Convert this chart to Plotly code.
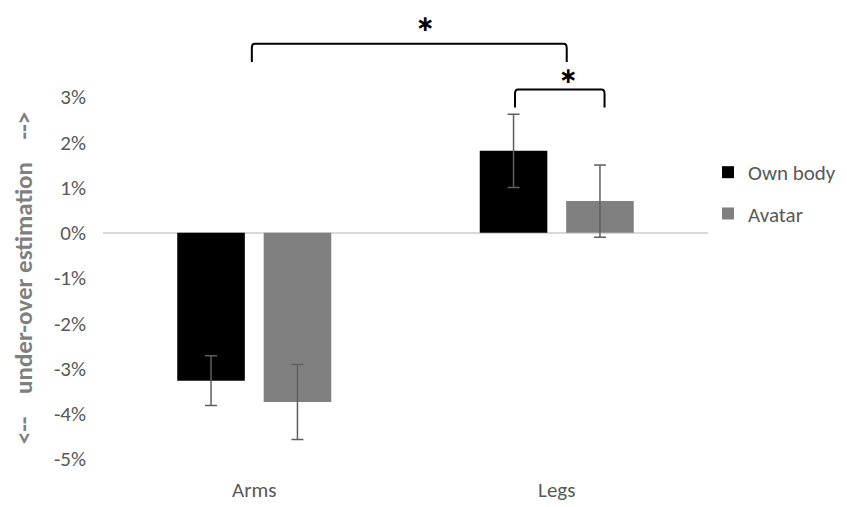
import plotly.graph_objects as go

categories = ["Arms", "Legs"]
own_body = [-3.27, 1.81]
own_body_err = [0.55, 0.81]
avatar = [-3.74, 0.70]
avatar_err = [0.83, 0.80]
y_ticks = [-5, -4, -3, -2, -1, 0, 1, 2, 3]
y_tick_text = [f"{v}%" for v in y_ticks]

FONT = "Calibri, Carlito, Lato, sans-serif"
GRAY_TXT = "#595959"
FS = 21

fig = go.Figure()
fig.add_trace(go.Bar(
    name="Own body", x=categories, y=own_body,
    marker=dict(color="#000000", line=dict(width=0)),
    error_y=dict(type="data", array=own_body_err, color="#5f5f5f", thickness=1.5, width=6),
    legendgroup="a",
))
fig.add_trace(go.Bar(
    name="Avatar", x=categories, y=avatar,
    marker=dict(color="#808080", line=dict(width=0)),
    error_y=dict(type="data", array=avatar_err, color="#5f5f5f", thickness=1.5, width=6),
    legendgroup="b",
))

# significance brackets (x in category units, y in paper units)
def bracket(x0, x1, ytop, ybot):
    r = 0.012
    return (f"M {x0},{ybot} L {x0},{ytop - r} Q {x0},{ytop} {x0 + 0.01},{ytop} "
            f"L {x1 - 0.01},{ytop} Q {x1},{ytop} {x1},{ytop - r} L {x1},{ybot}")

fig.add_shape(type="path", xref="x", yref="paper",
              path=bracket(-0.008, 1.033, 1.147, 1.097),
              line=dict(color="#000000", width=2))
fig.add_shape(type="path", xref="x", yref="paper",
              path=bracket(0.862, 1.158, 1.021, 0.971),
              line=dict(color="#000000", width=2))
fig.add_annotation(x=0.564, y=1.2046, xref="x", yref="paper", text="<b>\u2217</b>",
                   xanchor="center", yanchor="middle", height=18, borderpad=0,
                   showarrow=False,
                   font=dict(size=22, color="#000000", family="DejaVu Sans"))
fig.add_annotation(x=1.037, y=1.0606, xref="x", yref="paper", text="<b>\u2217</b>",
                   xanchor="center", yanchor="middle", height=18, borderpad=0,
                   showarrow=False,
                   font=dict(size=22, color="#000000", family="DejaVu Sans"))

NB = "&nbsp;"
title_txt = f"<b>&lt;--{NB*4}under-over estimation{NB*4}--&gt;</b>"

fig.update_layout(
    width=847, height=507,
    margin=dict(l=91, r=147, t=89, b=55),
    paper_bgcolor="white", plot_bgcolor="white",
    barmode="group", bargap=0.4286, bargroupgap=0.218,
    font=dict(family=FONT, color=GRAY_TXT, size=FS),
    legend=dict(x=1.0, xanchor="left", y=0.848, yanchor="top",
                tracegroupgap=11, font=dict(size=FS, color=GRAY_TXT),
                itemwidth=30),
    showlegend=True,
)
fig.update_xaxes(showgrid=False, showline=False, zeroline=False, ticks="",
                 tickfont=dict(size=FS, color=GRAY_TXT), ticklabelstandoff=16)
fig.update_yaxes(range=[-5, 3], tickvals=y_ticks, ticktext=y_tick_text,
                 showgrid=False, showline=False, ticks="",
                 zeroline=True, zerolinecolor="#d9d9d9", zerolinewidth=1.5,
                 tickfont=dict(size=FS, color=GRAY_TXT), ticklabelstandoff=16,
                 title=dict(text=title_txt,
                            font=dict(size=25, color="#7f7f7f"), standoff=16))

fig.write_html("out.html")
